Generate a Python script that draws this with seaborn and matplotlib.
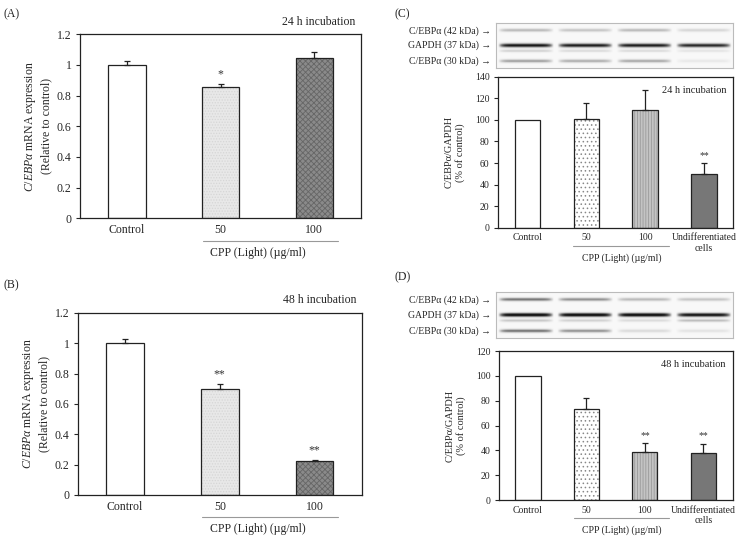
import numpy as np
import matplotlib
matplotlib.use("Agg")
import matplotlib.pyplot as plt
import matplotlib.transforms as mtransforms
from matplotlib.patches import Rectangle
import seaborn as sns

# --- data ---
mrna_groups = ["Control", "50", "100"]
mrna_24h = [1.0, 0.855, 1.045]
mrna_24h_err = [0.025, 0.02, 0.04]
mrna_24h_sig = ["", "*", ""]
mrna_48h = [1.0, 0.70, 0.225]
mrna_48h_err = [0.03, 0.03, 0.006]
mrna_48h_sig = ["", "**", "**"]

wb_groups = ["Control", "50", "100", "Undifferentiated\ncells"]
wb_24h = [100, 100.5, 109.5, 49.5]
wb_24h_err = [0, 15.5, 18, 10.5]
wb_24h_sig = ["", "", "", "**"]
wb_48h = [100, 73, 39, 38]
wb_48h_err = [0, 9, 7, 7.5]
wb_48h_sig = ["", "", "**", "**"]

# band intensities per lane (42 kDa, GAPDH, faint band, 30 kDa)
blot_24h = {"42": [0.35, 0.30, 0.35, 0.22], "gapdh": [0.95, 0.92, 0.92, 0.88],
            "faint": [0.25, 0.2, 0.2, 0.15], "30": [0.45, 0.40, 0.42, 0.12]}
blot_48h = {"42": [0.60, 0.50, 0.35, 0.30], "gapdh": [1.0, 1.0, 1.0, 0.95],
            "faint": [0.3, 0.25, 0.2, 0.35], "30": [0.62, 0.50, 0.20, 0.15]}
blot_labels = ["C/EBPα (42 kDa) →", "GAPDH (37 kDa) →", "C/EBPα (30 kDa) →"]

sns.set_theme(style="white")
plt.rcParams["font.family"] = ["Liberation Serif", "DejaVu Serif"]
plt.rcParams["mathtext.fontset"] = "custom"
plt.rcParams["mathtext.it"] = "Liberation Serif:italic"
plt.rcParams["mathtext.rm"] = "Liberation Serif"
plt.rcParams["hatch.linewidth"] = 0.6

fig = plt.figure(figsize=(7.4, 5.36), dpi=100)


def bar_panel(ax, cats, vals, errs, sigs, fills, hatches, hatch_cols, width,
              ymax, ystep, fs, fmt):
    sns.barplot(x=cats, y=vals, hue=cats, palette=fills, legend=False,
                width=width, ax=ax, saturation=1, linewidth=0)
    for p, h, hc in zip(ax.patches, hatches, hatch_cols):
        p.set_hatch(h)
        p.set_edgecolor(hc)
        p.set_linewidth(0)
        ax.add_patch(Rectangle(p.get_xy(), p.get_width(), p.get_height(),
                               fill=False, edgecolor="#222222", lw=0.9, zorder=3))
    xs = np.arange(len(cats))
    has_err = [i for i, e in enumerate(errs) if e > 0]
    ax.errorbar(xs[has_err], np.array(vals)[has_err],
                yerr=[np.zeros(len(has_err)), np.array(errs)[has_err]], fmt="none",
                ecolor="#222222", elinewidth=0.9, capsize=2.5, capthick=0.9, zorder=4)
    for x, v, e, s in zip(xs, vals, errs, sigs):
        if s:
            ax.text(x, v + e + ymax * 0.02, s, ha="center", va="bottom",
                    fontsize=fs, color="#333333")
    ax.set_ylim(0, ymax)
    ax.set_xlim(-0.5, len(cats) - 0.5)
    ticks = np.arange(0, ymax + ystep / 2, ystep)
    ax.set_yticks(ticks)
    ax.set_yticklabels([fmt(t) for t in ticks], fontsize=fs)
    ax.tick_params(axis="x", length=0, labelsize=fs, pad=4)
    ax.tick_params(axis="y", length=3, width=0.8, direction="out", pad=3, left=True)
    for sp in ax.spines.values():
        sp.set_color("#222222")
        sp.set_linewidth(0.9)
    ax.set_xlabel("")


def group_line(ax, x0, x1, ylin, xlab, ylab, fs):
    tr = mtransforms.blended_transform_factory(ax.transData, ax.transAxes)
    ax.plot([x0, x1], [ylin, ylin], color="#999999", lw=0.8, transform=tr,
            clip_on=False)
    ax.text(xlab, ylab, "CPP (Light) (µg/ml)", transform=tr, ha="center",
            va="center", fontsize=fs)


def blot_panel(ax, bands, n_lanes=4):
    h, w = 60, 320
    rows = np.arange(h)[:, None]
    cols = np.arange(w)[None, :]
    img = np.full((h, w), 0.06)
    lane_w = w / n_lanes
    centers = {"42": 0.17 * h, "gapdh": 0.5 * h, "faint": 0.62 * h, "30": 0.84 * h}
    widths = {"42": 2.2, "gapdh": 2.6, "faint": 1.8, "30": 2.2}
    for key, inten in bands.items():
        for i, a in enumerate(inten):
            lane = np.clip(1 - ((cols - (i + 0.5) * lane_w) / (0.47 * lane_w)) ** 8, 0, 1)
            img += a * lane * np.exp(-((rows - centers[key]) / widths[key]) ** 2)
    ax.imshow(np.clip(img, 0, 1), cmap="Greys", vmin=0, vmax=1.05,
              aspect="auto", interpolation="bilinear")
    ax.set_xticks([])
    ax.set_yticks([])
    for sp in ax.spines.values():
        sp.set_color("#bbbbbb")
        sp.set_linewidth(0.8)
    for lab, yf in zip(blot_labels, [0.83, 0.5, 0.16]):
        ax.text(-0.02, yf, lab, transform=ax.transAxes, ha="right", va="center",
                fontsize=7)


fmt_a = lambda t: f"{t:.1f}".rstrip("0").rstrip(".") if t != 0 else "0"
fmt_c = lambda t: f"{int(round(t))}"

mrna_fills = ["#ffffff", "#e8e8e8", "#8a8a8a"]
mrna_hatch = ["", "......", "xxxxxx"]
mrna_hcol = ["#ffffff", "#d6d6d6", "#666666"]
wb_fills = ["#ffffff", "#ffffff", "#c4c4c4", "#777777"]
wb_hatch = ["", "....", "||||||", ""]
wb_hcol = ["#ffffff", "#888888", "#9a9a9a", "#777777"]

ylab_mrna = r"$\mathit{C/EBP\alpha}$ mRNA expression" + "\n(Relative to control)"
ylab_wb = "C/EBPα/GAPDH\n(% of control)"

# (A)
axA = fig.add_axes([0.108, 0.593, 0.380, 0.343])
bar_panel(axA, mrna_groups, mrna_24h, mrna_24h_err, mrna_24h_sig, mrna_fills,
          mrna_hatch, mrna_hcol, 0.4, 1.2, 0.2, 8.5, fmt_a)
axA.set_ylabel(ylab_mrna, fontsize=8.5, linespacing=1.3, labelpad=3)
axA.text(0.98, 1.035, "24 h incubation", transform=axA.transAxes, ha="right",
         va="bottom", fontsize=8.5)
group_line(axA, 0.81, 2.25, -0.125, 1.4, -0.19, 8.5)
fig.text(0.005, 0.985, "(A)", fontsize=8.5, va="top")

# (B)
axB = fig.add_axes([0.105, 0.0765, 0.384, 0.340])
bar_panel(axB, mrna_groups, mrna_48h, mrna_48h_err, mrna_48h_sig, mrna_fills,
          mrna_hatch, mrna_hcol, 0.4, 1.2, 0.2, 8.5, fmt_a)
axB.set_ylabel(ylab_mrna, fontsize=8.5, linespacing=1.3, labelpad=3)
axB.text(0.98, 1.035, "48 h incubation", transform=axB.transAxes, ha="right",
         va="bottom", fontsize=8.5)
group_line(axB, 0.81, 2.25, -0.12, 1.4, -0.185, 8.5)
fig.text(0.005, 0.478, "(B)", fontsize=8.5, va="top")

# (C)
blotC = fig.add_axes([0.670, 0.873, 0.320, 0.084])
blot_panel(blotC, blot_24h)
axC = fig.add_axes([0.673, 0.575, 0.318, 0.282])
bar_panel(axC, wb_groups, wb_24h, wb_24h_err, wb_24h_sig, wb_fills,
          wb_hatch, wb_hcol, 0.43, 140, 20, 7, fmt_c)
axC.set_ylabel(ylab_wb, fontsize=7.5, linespacing=1.25, labelpad=7)
axC.text(0.97, 0.94, "24 h incubation", transform=axC.transAxes, ha="right",
         va="top", fontsize=7.5)
group_line(axC, 0.78, 2.41, -0.12, 1.6, -0.2, 7)
fig.text(0.533, 0.985, "(C)", fontsize=8.5, va="top")

# (D)
blotD = fig.add_axes([0.670, 0.369, 0.320, 0.086])
blot_panel(blotD, blot_48h)
axD = fig.add_axes([0.674, 0.067, 0.316, 0.278])
bar_panel(axD, wb_groups, wb_48h, wb_48h_err, wb_48h_sig, wb_fills,
          wb_hatch, wb_hcol, 0.43, 120, 20, 7, fmt_c)
axD.set_ylabel(ylab_wb, fontsize=7.5, linespacing=1.25, labelpad=7)
axD.text(0.97, 0.94, "48 h incubation", transform=axD.transAxes, ha="right",
         va="top", fontsize=7.5)
group_line(axD, 0.78, 2.41, -0.12, 1.6, -0.2, 7)
fig.text(0.533, 0.493, "(D)", fontsize=8.5, va="top")

fig.savefig("out.png", dpi=100, facecolor="white")
